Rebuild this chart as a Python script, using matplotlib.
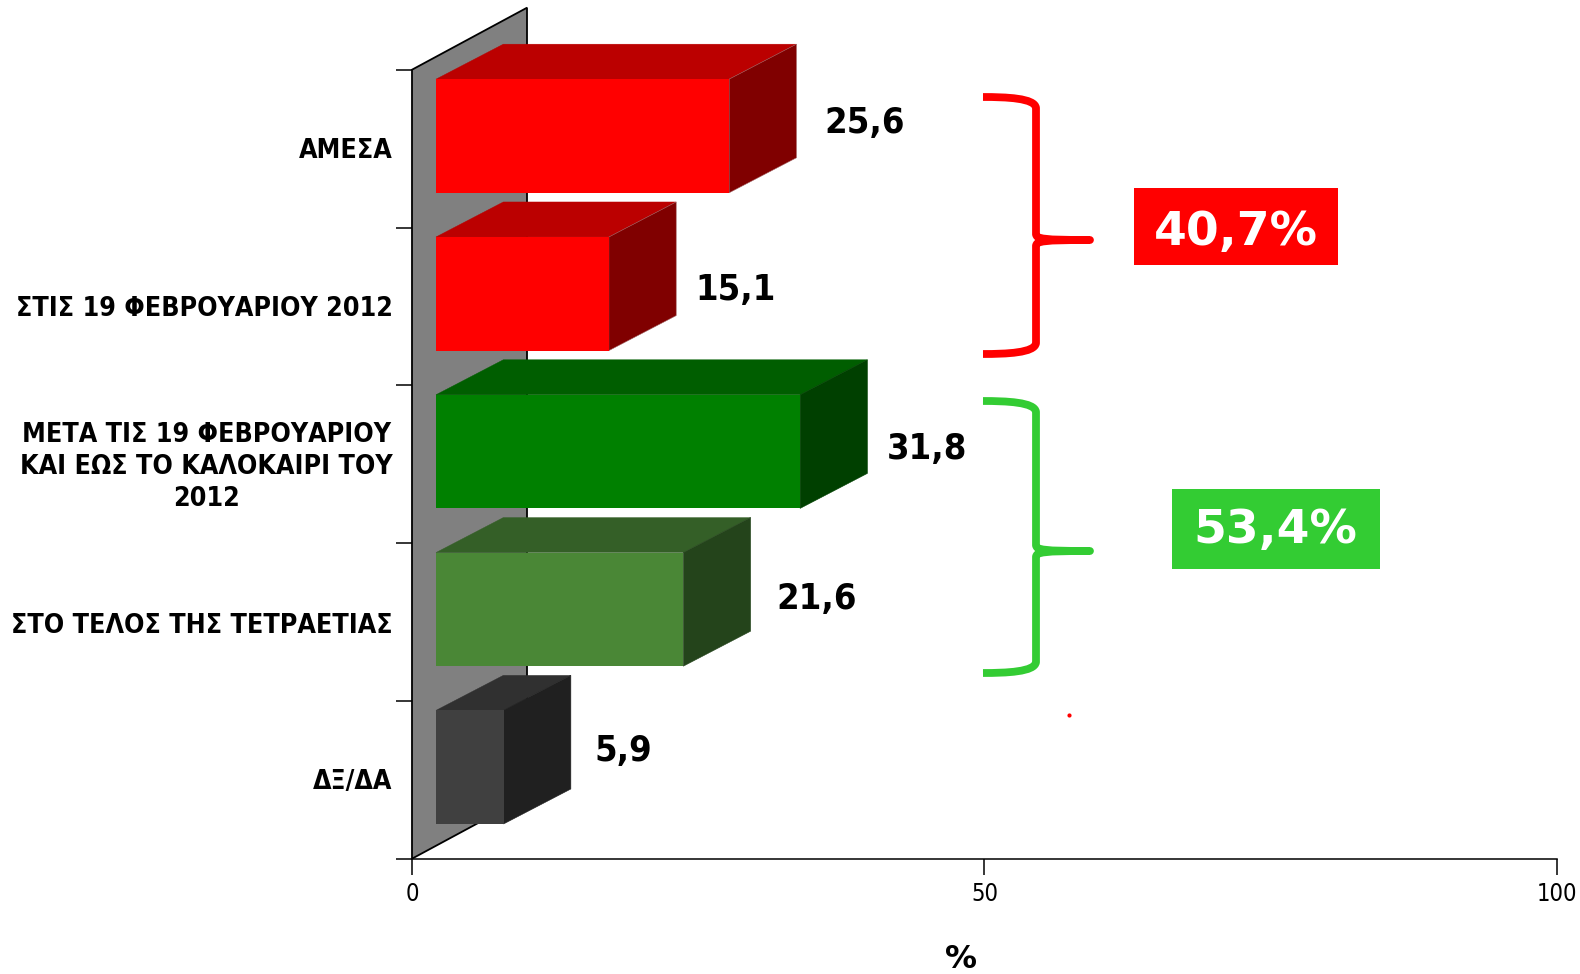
import matplotlib
matplotlib.use('Agg')
import matplotlib.pyplot as plt
from matplotlib.patches import Polygon, Rectangle
from matplotlib.path import Path
from matplotlib.patches import PathPatch
from matplotlib.transforms import ScaledTranslation

categories = ['ΑΜΕΣΑ', 'ΣΤΙΣ 19 ΦΕΒΡΟΥΑΡΙΟΥ 2012',
              'ΜΕΤΑ ΤΙΣ 19 ΦΕΒΡΟΥΑΡΙΟΥ\nΚΑΙ ΕΩΣ ΤΟ ΚΑΛΟΚΑΙΡΙ ΤΟΥ\n2012',
              'ΣΤΟ ΤΕΛΟΣ ΤΗΣ ΤΕΤΡΑΕΤΙΑΣ', 'ΔΞ/ΔΑ']
values = [25.6, 15.1, 31.8, 21.6, 5.9]
group_labels = ['40,7%', '53,4%']
x_ticks = [0, 50, 100]

front_colors = ['#ff0000', '#ff0000', '#008000', '#4a8736', '#404040']
top_colors = ['#bb0000', '#bb0000', '#005e00', '#345f27', '#303030']
side_colors = ['#800000', '#800000', '#004000', '#24441b', '#202020']

# offsets of the value labels from the bar's far corner, in pixels
label_dx = [28, 19, 19, 26, 24]
label_dy = [26, 16, 15, 23, 29]
# nudges of the category labels, in pixels
ylabel_dy = [1, 0, 3, -1, 1]

W, H = 1580, 974
AX_L, AX_R, AX_T, AX_B = 412, 1557, 69.7, 858.7

FONT = 'DejaVu Sans'

fig = plt.figure(figsize=(W / 100, H / 100), dpi=100)
ax = fig.add_axes([AX_L / W, 1 - AX_B / H, (AX_R - AX_L) / W, (AX_B - AX_T) / H])
ax.set_xlim(0, 100)
ax.set_ylim(5, 0)
ax.patch.set_visible(False)

x_unit = (AX_R - AX_L) / 100
y_unit = (AX_B - AX_T) / 5
depth_x = 67.3 / x_unit
depth_y = 35.0 / y_unit
wall_x = 115 / x_unit
wall_y = 62 / y_unit
start = 24 / x_unit

# back wall
ax.add_patch(Polygon([(0, 0), (wall_x, -wall_y), (wall_x, 5 - wall_y), (0, 5)],
                     closed=True, fc='#808080', ec='black', lw=1.3, clip_on=False, zorder=1))

for i, v in enumerate(values):
    y0 = i + 0.06
    y1 = i + 0.78
    x0 = start
    x1 = start + v
    ax.add_patch(Polygon([(x0, y0), (x1, y0), (x1 + depth_x, y0 - depth_y), (x0 + depth_x, y0 - depth_y)],
                         closed=True, fc=top_colors[i], ec=top_colors[i], lw=0.3, clip_on=False, zorder=2 + i))
    ax.add_patch(Polygon([(x1, y0), (x1 + depth_x, y0 - depth_y), (x1 + depth_x, y1 - depth_y), (x1, y1)],
                         closed=True, fc=side_colors[i], ec='#a06060' if i < 2 else side_colors[i], lw=0.4,
                         clip_on=False, zorder=2 + i))
    ax.add_patch(Rectangle((x0, y0), v, y1 - y0, fc=front_colors[i], ec='none', antialiased=False,
                           clip_on=False, zorder=2 + i))
    ax.annotate(str(v).replace('.', ','), xy=(x1 + depth_x, i + 0.5), xytext=(label_dx[i], label_dy[i]),
                textcoords='offset pixels', ha='left', va='center', fontsize=26, fontweight='bold',
                fontstretch='condensed', family=FONT, color='black', zorder=20)

ax.set_xticks(x_ticks)
ax.set_xticklabels([str(t) for t in x_ticks], fontsize=17, family=FONT, fontstretch='condensed')
ax.set_yticks(range(6))
ax.set_yticklabels([])
ax.set_yticks([i + 0.5 for i in range(5)], minor=True)
ylabels = ax.set_yticklabels(categories, minor=True, fontsize=19.2, fontweight='bold', family=FONT,
                             fontstretch='condensed', ma='center', linespacing=1.3)
ax.tick_params(axis='y', which='minor', length=0, pad=14)
ax.tick_params(axis='both', which='major', length=11.5, width=1.1, color='black')
ax.tick_params(axis='x', pad=5)
for i, lab in enumerate(ylabels):
    lab.set_transform(lab.get_transform() + ScaledTranslation(0, ylabel_dy[i] / 100, fig.dpi_scale_trans))
for s in ['top', 'right', 'left']:
    ax.spines[s].set_visible(False)
ax.spines['bottom'].set_linewidth(1.1)
ax.set_xlabel('%', fontsize=23, fontweight='bold', family=FONT)
ax.xaxis.set_label_coords((961 - AX_L) / (AX_R - AX_L), -(960 - AX_B) / (AX_B - AX_T), transform=ax.transAxes)
ax.xaxis.label.set_verticalalignment('center')

# overlay in pixel coordinates for the braces and group boxes
ov = fig.add_axes([0, 0, 1, 1])
ov.set_xlim(0, W)
ov.set_ylim(H, 0)
ov.axis('off')
ov.patch.set_visible(False)


def brace(top, mid, bottom, color):
    x_l, x_m, x_r = 983, 1036, 1090
    verts = [(x_l, top), (x_m - 30, top), (x_m - 1, top + 1), (x_m, top + 11),
             (x_m, mid - 6), (x_m, mid - 1), (x_m + 8, mid), (x_r, mid),
             (x_m + 8, mid), (x_m, mid + 1), (x_m, mid + 6),
             (x_m, bottom - 11), (x_m - 1, bottom - 1), (x_m - 30, bottom), (x_l, bottom)]
    codes = [Path.MOVETO, Path.CURVE4, Path.CURVE4, Path.CURVE4,
             Path.LINETO, Path.CURVE4, Path.CURVE4, Path.CURVE4,
             Path.CURVE4, Path.CURVE4, Path.CURVE4,
             Path.LINETO, Path.CURVE4, Path.CURVE4, Path.CURVE4]
    ov.add_patch(PathPatch(Path(verts, codes), fc='none', ec=color, lw=5.6, capstyle='butt', joinstyle='round'))


brace(97, 240, 354, '#ff0000')
brace(401, 551, 673, '#33cc33')

ov.add_patch(Rectangle((1134, 188), 204, 77, fc='#ff0000', ec='none'))
ov.text(1236, 233, group_labels[0], color='white', fontsize=34, fontweight='bold', family=FONT,
        ha='center', va='center')
ov.add_patch(Rectangle((1172, 489), 208, 80, fc='#33cc33', ec='none'))
ov.text(1275, 531, group_labels[1], color='white', fontsize=34, fontweight='bold', family=FONT,
        ha='center', va='center')
ov.plot([1068.5], [714.5], marker='o', ms=3, color='#ff0000', mec='none')

fig.savefig('out.png', dpi=100, facecolor='white')
